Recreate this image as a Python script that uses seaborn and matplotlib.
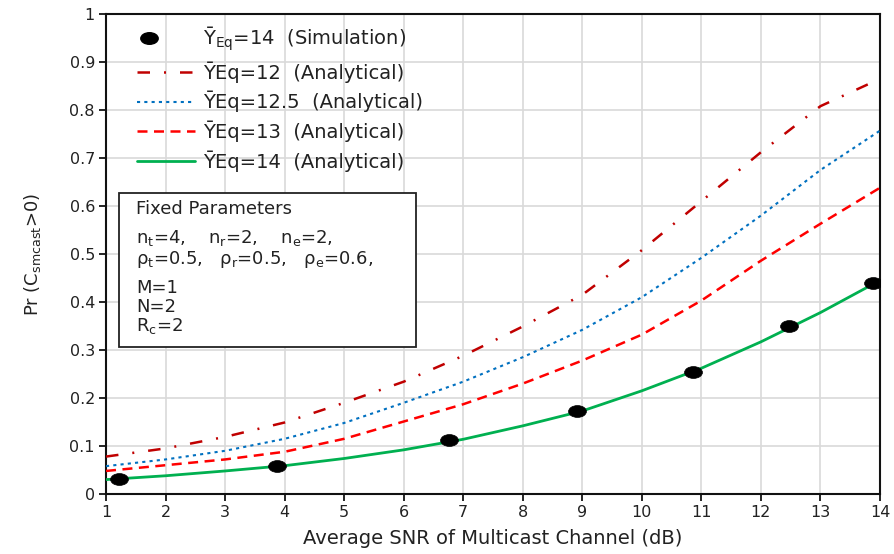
import numpy as np
import pandas as pd
import matplotlib
matplotlib.use("Agg")
import matplotlib.pyplot as plt
import seaborn as sns
from matplotlib.path import Path
from matplotlib.patches import Rectangle
from matplotlib.legend_handler import HandlerLine2DCompound

# Average SNR of the multicast channel (dB)
snr_db = [1, 2, 3, 4, 5, 6, 7, 8, 9, 10, 11, 12, 13, 14]

# Analytical probability of positive secure multicast capacity
pr_y12 = [0.078, 0.095, 0.119, 0.149, 0.190, 0.234, 0.288, 0.349, 0.415, 0.508, 0.610, 0.712, 0.808, 0.865]
pr_y125 = [0.058, 0.072, 0.090, 0.115, 0.148, 0.190, 0.234, 0.285, 0.342, 0.410, 0.492, 0.580, 0.675, 0.757]
pr_y13 = [0.048, 0.060, 0.072, 0.088, 0.115, 0.151, 0.187, 0.230, 0.278, 0.332, 0.403, 0.486, 0.563, 0.638]
pr_y14 = [0.030, 0.038, 0.048, 0.059, 0.074, 0.092, 0.114, 0.142, 0.173, 0.215, 0.262, 0.317, 0.378, 0.445]

# Monte-Carlo simulation points
sim_snr_db = [1.22, 3.87, 6.76, 8.91, 10.86, 12.47, 13.88]
sim_pr_y14 = [0.031, 0.058, 0.112, 0.173, 0.254, 0.350, 0.440]

x_ticks = list(range(1, 15))
y_ticks = [0, 0.1, 0.2, 0.3, 0.4, 0.5, 0.6, 0.7, 0.8, 0.9, 1.0]
y_tick_labels = ["0", "0.1", "0.2", "0.3", "0.4", "0.5", "0.6", "0.7", "0.8", "0.9", "1"]


class LeftMarkerHandler(HandlerLine2DCompound):
    """Places the single legend marker near the left of the handle area."""

    def get_xdata(self, legend, xdescent, ydescent, width, height, fontsize):
        xdata = np.array([-xdescent, -xdescent + width], float)
        return xdata, np.array([-xdescent + 0.2 * width])


sns.set_theme(style="whitegrid")
plt.rcParams['font.family'] = ['DejaVu Sans']
plt.rcParams['mathtext.default'] = 'regular'

fig = plt.figure(figsize=(8.94, 5.54), dpi=100)
ax = fig.add_axes([0.1186, 0.1083, 0.8657, 0.8664])
ax.set_facecolor("white")

curves = pd.DataFrame({
    "snr": snr_db,
    "y12": pr_y12,
    "y125": pr_y125,
    "y13": pr_y13,
    "y14": pr_y14,
})

sns.lineplot(data=curves, x="snr", y="y12", ax=ax, color="#C00000", lw=1.8,
             linestyle=(0, (5, 5.6, 0.8, 5.6)), zorder=3)
sns.lineplot(data=curves, x="snr", y="y125", ax=ax, color="#0070C0", lw=1.5,
             linestyle=(0, (1.5, 2.0)), zorder=3)
sns.lineplot(data=curves, x="snr", y="y13", ax=ax, color="#FF0000", lw=1.8,
             linestyle=(0, (4, 2.6)), zorder=3)
sns.lineplot(data=curves, x="snr", y="y14", ax=ax, color="#00B050", lw=2.0,
             linestyle="-", zorder=3)

# Wide elliptical marker for the simulation points
circ = Path.unit_circle()
ellipse = Path(circ.vertices * np.array([1.5, 1.0]), circ.codes)
sns.scatterplot(x=sim_snr_db, y=sim_pr_y14, ax=ax, marker=ellipse, s=165,
                color="black", edgecolor="black", linewidth=0.5, zorder=5)

ax.set_xlim(1, 14)
ax.set_ylim(0, 1)
ax.set_xticks(x_ticks)
ax.set_xticklabels([str(t) for t in x_ticks])
ax.set_yticks(y_ticks)
ax.set_yticklabels(y_tick_labels)
ax.tick_params(axis="both", which="major", direction="out", length=5, width=1.2,
               color="black", labelsize=11.5, labelcolor="#222222", pad=3,
               left=True, bottom=True)
ax.grid(True, color="#D9D9D9", lw=1.2)

for side in ["left", "bottom", "top", "right"]:
    ax.spines[side].set_visible(True)
    ax.spines[side].set_color("#111111")
    ax.spines[side].set_linewidth(1.5)

ax.set_xlabel("Average SNR of Multicast Channel (dB)", fontsize=14, color="#222222")
ax.set_ylabel("Pr (C$_{smcast}$>0)", fontsize=13, color="#222222")
ax.xaxis.set_label_coords(0.5, -0.072)
ax.yaxis.set_label_coords(-0.082, 0.5)

# Legend
lines = ax.get_lines()
sim_handle = plt.Line2D([], [], ls="none", marker=ellipse, markersize=12.5,
                        color="black")
handles = [sim_handle, lines[0], lines[1], lines[2], lines[3]]
labels = [
    "\u0232$_{Eq}$=14  (Simulation)",
    "\u0232Eq=12  (Analytical)",
    "\u0232Eq=12.5  (Analytical)",
    "\u0232Eq=13  (Analytical)",
    "\u0232Eq=14  (Analytical)",
]
ax.legend(handles, labels, loc="upper left", bbox_to_anchor=(0.040, 0.978),
          frameon=False, fontsize=14, handlelength=3.0, handletextpad=0.4,
          labelspacing=0.42, borderpad=0, borderaxespad=0,
          labelcolor="#222222",
          handler_map={sim_handle: LeftMarkerHandler()})

# Box of fixed parameters
ax.add_patch(Rectangle((0.0168, 0.306), 0.384, 0.321, transform=ax.transAxes,
                       facecolor="white", edgecolor="#222222", lw=1.3, zorder=4))
info_lines = [
    ("Fixed Parameters", 0.583),
    ("n$_t$=4,    n$_r$=2,    n$_e$=2,", 0.523),
    ("\u03c1$_t$=0.5,   \u03c1$_r$=0.5,   \u03c1$_e$=0.6,", 0.479),
    ("M=1", 0.419),
    ("N=2", 0.380),
    ("R$_c$=2", 0.339),
]
for txt, yb in info_lines:
    ax.text(0.0388, yb, txt, transform=ax.transAxes, fontsize=13,
            color="#222222", va="baseline", ha="left", zorder=6)

fig.savefig("out.png", dpi=100)
